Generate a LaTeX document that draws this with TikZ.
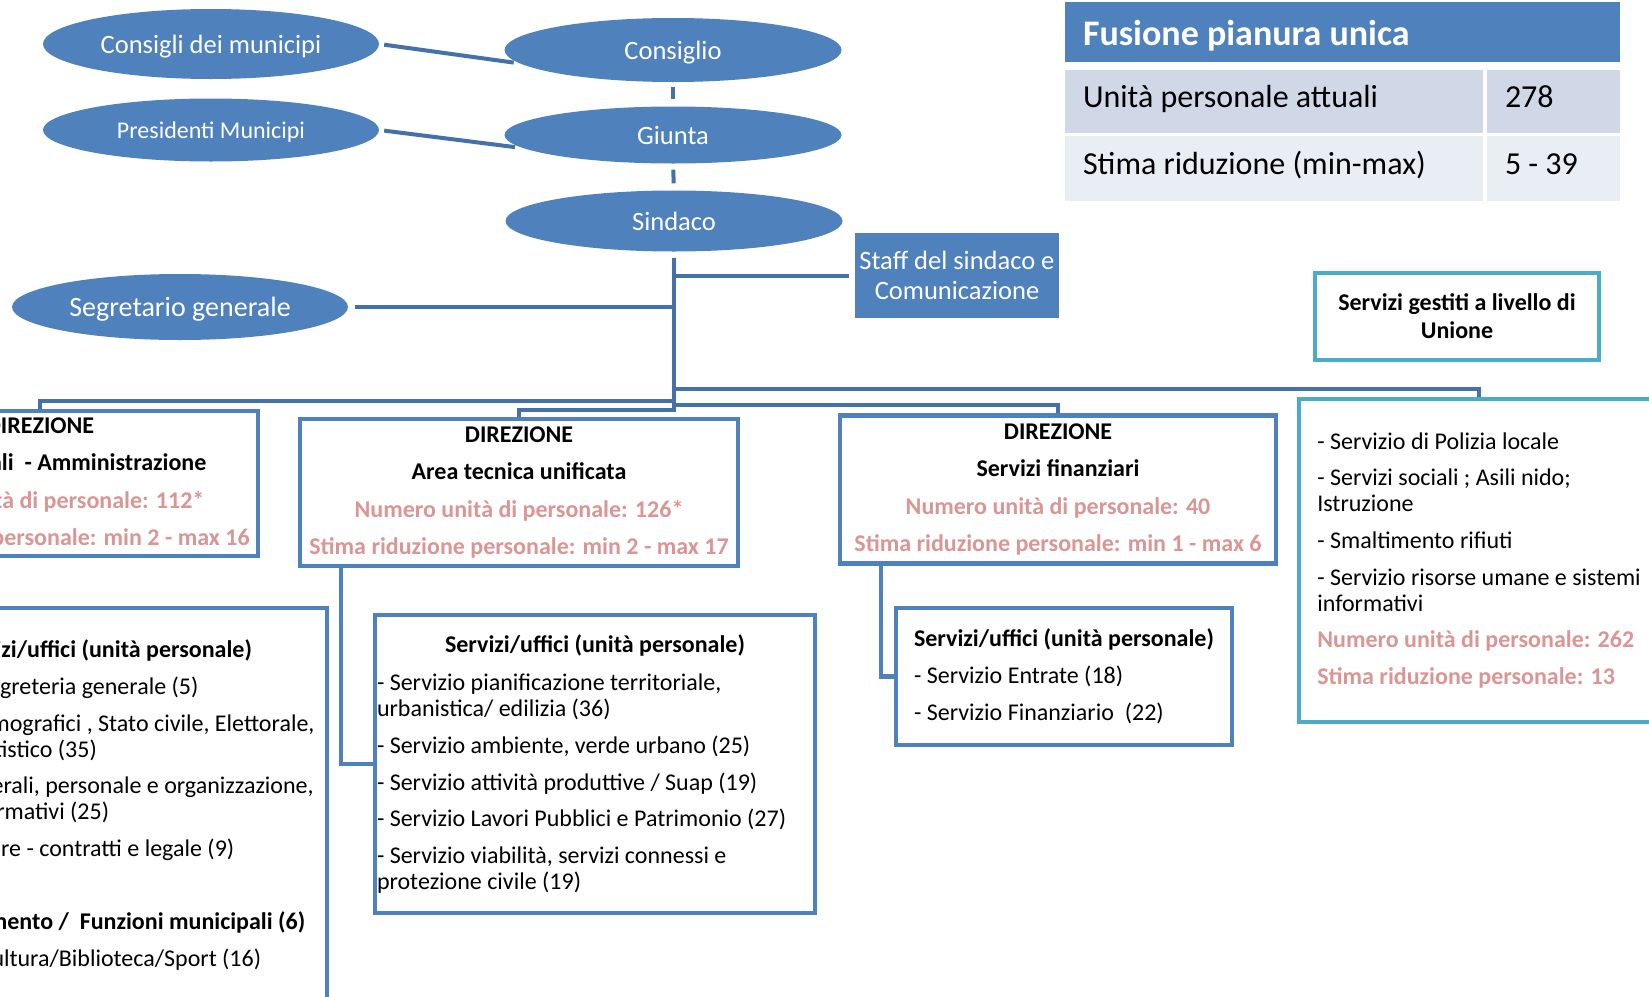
\documentclass[tikz,border=0pt]{standalone}
\usepackage{fontspec}
\setmainfont{Carlito}
\usetikzlibrary{shapes.geometric,calc}

\definecolor{ellblue}{HTML}{4F81BD}
\definecolor{linkblue}{HTML}{4571AA}
\definecolor{unionteal}{HTML}{4BACC6}
\definecolor{redtxt}{HTML}{D99694}
\definecolor{rowdark}{HTML}{D0D8E8}
\definecolor{rowlight}{HTML}{E9EDF4}

\begin{document}
\begin{tikzpicture}[x=1pt, y=-1pt,
  ell/.style={ellipse, fill=ellblue, text=white, inner sep=0pt, text height=24pt, text depth=5pt, font=\fontsize{26.5}{30}\selectfont},
  link/.style={draw=linkblue, line width=4pt},
  sublink/.style={draw=ellblue, line width=4.5pt},
  dirbox/.style={draw=ellblue, line width=4.5pt, fill=white, align=center, inner sep=0pt, font=\fontsize{24}{37.3}\selectfont\bfseries},
  srvbox/.style={draw=ellblue, line width=4.5pt, fill=white, align=flush left, inner ysep=0pt, font=\fontsize{24}{25.8}\selectfont},
  cell/.style={inner xsep=18pt, inner ysep=0pt, align=flush left, text height=22pt, text depth=10pt, font=\fontsize{32}{36}\selectfont}]

\useasboundingbox (0,0) rectangle (1649,996);
\clip (0,0) rectangle (1649,996);

\node[ell, minimum width=336pt, minimum height=70pt] (consigli) at (211,44) {Consigli dei municipi};
\node[ell, minimum width=337pt, minimum height=64pt] (consiglio) at (673,50) {Consiglio};
\node[ell, minimum width=336pt, minimum height=63pt, text depth=7pt, font=\fontsize{24}{28}\selectfont] (presidenti) at (211,130) {Presidenti Municipi};
\node[ell, minimum width=337pt, minimum height=57pt] (giunta) at (673,135) {Giunta};
\node[ell, minimum width=337pt, minimum height=61pt] (sindaco) at (674,221) {Sindaco};
\node[ell, minimum width=336pt, minimum height=66pt, font=\fontsize{28}{32}\selectfont] (segretario) at (180,307) {Segretario generale};

\node[fill=ellblue, text=white, minimum width=204pt, minimum height=85pt, inner sep=0pt, align=center,
  font=\fontsize{26.5}{30}\selectfont] (staff) at (957,275.5) {Staff del sindaco e\\Comunicazione};

% tabella riassuntiva
\node[cell, fill=ellblue, text=white, text width=519pt, minimum height=60pt, text height=30pt, text depth=4pt,
  font=\fontsize{36}{40}\selectfont\bfseries] (head) at (1342.5,32) {Fusione pianura unica};
\node[cell, fill=rowdark, text width=382pt, minimum height=63pt] (c11) at (1274,101.5) {Unità personale attuali};
\node[cell, fill=rowdark, text width=97pt, minimum height=63pt] (c12) at (1553.5,101.5) {278};
\node[cell, fill=rowlight, text width=382pt, minimum height=65pt] (c21) at (1274,168.5) {Stima riduzione (min-max)};
\node[cell, fill=rowlight, text width=97pt, minimum height=65pt] (c22) at (1553.5,168.5) {5 - 39};

\node[draw=unionteal, line width=4.5pt, minimum width=284pt, minimum height=87pt, align=center,
  font=\fontsize{24}{28}\selectfont\bfseries] (gestiti) at (1457,316.5) {Servizi gestiti a livello di\\Unione};

\node[dirbox, minimum width=436pt, minimum height=145pt] (dirAmm) at (40,483.5)
  {DIREZIONE\\Affari generali\ \ - Amministrazione\\{\color{redtxt}Numero unità di personale: 112*}\\{\color{redtxt}Stima riduzione personale: min 2 - max 16}};
\node[dirbox, minimum width=438pt, minimum height=147pt] (dirTec) at (519,492.5)
  {DIREZIONE\\Area tecnica unificata\\{\color{redtxt}Numero unità di personale: 126*}\\{\color{redtxt}Stima riduzione personale: min 2 - max 17}};
\node[dirbox, minimum width=436pt, minimum height=148pt] (dirFin) at (1058,489.5)
  {DIREZIONE\\Servizi finanziari\\{\color{redtxt}Numero unità di personale: 40}\\{\color{redtxt}Stima riduzione personale: min 1 - max 6}};

\node[srvbox, draw=unionteal, minimum width=360pt, minimum height=323pt] (unione) at (1479,560.5)
  {- Servizio di Polizia locale\\[11pt]
   - Servizi sociali ; Asili nido;\\Istruzione\\[11pt]
   - Smaltimento rifiuti\\[11pt]
   - Servizio risorse umane e sistemi\\informativi\\[11pt]
   {\color{redtxt}\bfseries Numero unità di personale: 262}\\[11pt]
   {\color{redtxt}\bfseries Stima riduzione personale: 13}};

\node[srvbox, minimum width=450pt, minimum height=394pt, text width=434pt, inner xsep=8pt] (srvAmm) at (102,805)
  {{\centering\bfseries Servizi/uffici (unità personale)\par}\vspace{11.5pt}
   - Servizio segreteria generale (5)\\[11pt]
   - Servizi demografici , Stato civile, Elettorale,\\Servizio statistico (35)\\[11pt]
   - Affari generali, personale e organizzazione,\\sistemi informativi (25)\\[11pt]
   - Servizio gare - contratti e legale (9)\\[47.5pt]
   \textbf{- Decentramento /\ \ Funzioni municipali (6)}\\[11pt]
   - Servizio Cultura/Biblioteca/Sport (16)};

\node[srvbox, minimum width=440pt, minimum height=298pt, text width=436pt, inner xsep=2pt] (srvTec) at (595,764)
  {{\centering\bfseries Servizi/uffici (unità personale)\par}\vspace{12.5pt}
   - Servizio pianificazione territoriale,\\urbanistica/ edilizia (36)\\[11pt]
   - Servizio ambiente, verde urbano (25)\\[11pt]
   - Servizio attività produttive / Suap (19)\\[11pt]
   - Servizio Lavori Pubblici e Patrimonio (27)\\[11pt]
   - Servizio viabilità, servizi connessi e\\protezione civile (19)};

\node[srvbox, minimum width=336pt, minimum height=137pt] (srvFin) at (1064,676.5)
  {\textbf{Servizi/uffici (unità personale)}\\[11pt]
   - Servizio Entrate (18)\\[11pt]
   - Servizio Finanziario\ \ (22)};

\draw[link, shorten <=5pt, shorten >=6pt] (consigli.east) -- (consiglio.185);
\draw[link, shorten <=5pt, shorten >=8pt] (presidenti.east) -- (giunta.185);
\draw[link, shorten <=5pt, shorten >=7pt] (consiglio.south) -- (giunta.north);
\draw[link, shorten <=6pt, shorten >=7pt] (giunta.south) -- (sindaco.north);
\draw[link, shorten <=7pt] (segretario.east) -- (segretario.east -| sindaco.south);
\draw[link, shorten >=6pt] (sindaco.south |- staff.west) -- (staff.west);

\draw[link, shorten <=6pt] (sindaco.south) |- ([yshift=8pt]unione.north) -- (unione.north);
\draw[link, shorten <=6pt] (sindaco.south) |- ([yshift=8pt]dirAmm.north) -- (dirAmm.north);
\draw[link, shorten <=6pt] (sindaco.south) |- ([yshift=8pt]dirFin.north) -- (dirFin.north);
\draw[link, shorten <=6pt] (sindaco.south) |- ([yshift=7pt]dirTec.north) -- (dirTec.north);

\draw[sublink] ([xshift=43pt]dirTec.south west) |- (srvTec.west);
\draw[sublink] ([xshift=43pt]dirFin.south west) |- (srvFin.west);

\end{tikzpicture}
\end{document}
